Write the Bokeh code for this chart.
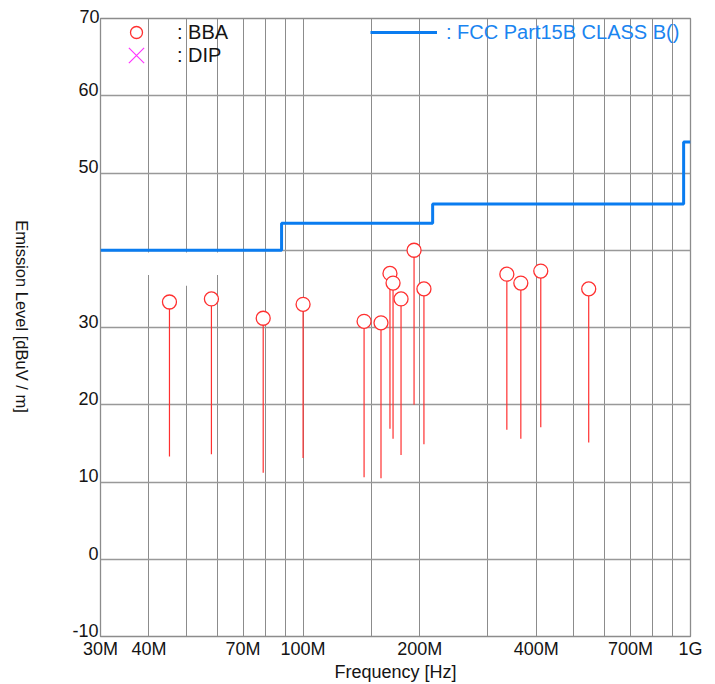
import math
from bokeh.plotting import figure
from bokeh.models import FixedTicker, Legend, LegendItem, Range1d, LinearAxis, Title
from bokeh.embed import file_html
from bokeh.resources import INLINE

# ---- data (frequencies in MHz, levels in dBuV/m) ----
freq_mhz = [45.2, 58.0, 78.9, 100.0, 143.7, 158.9, 167.6, 170.7, 179.0, 193.4, 205.1, 335.7, 364.8, 410.7, 546.1]
peak_dbuv = [33.3, 33.7, 31.2, 33.0, 30.8, 30.6, 37.0, 35.75, 33.7, 40.0, 35.0, 36.9, 35.75, 37.3, 35.0]
stem_low_dbuv = [13.3, 13.6, 11.2, 13.1, 10.6, 10.5, 16.9, 15.6, 13.5, 20.0, 14.9, 16.75, 15.6, 17.1, 15.1]

dip_freq_mhz = [float("nan")]   # no DIP readings in this chart
dip_dbuv = [float("nan")]

limit_edges_mhz = [30, 88, 216, 960, 1000]
limit_dbuv = [40.0, 43.5, 46.0, 54.0]

x_grid_mhz = [30, 40, 50, 60, 70, 80, 90, 100, 150, 200, 300, 400, 500, 600, 700, 800, 900, 1000]
x_tick_labels = {30: "30M", 40: "40M", 70: "70M", 100: "100M", 200: "200M",
                 400: "400M", 700: "700M", 1000: "1G"}
y_ticks = [-10, 0, 10, 20, 30, 40, 50, 60, 70]
y_tick_labels = ["-10", "0", "10", "20", "30", "", "50", "60", "70"]
y_title = "Emission Level [dBuV / m]"
x_title = "Frequency [Hz]"

FONT = "Liberation Sans"
GRID = "#8c8c8c"
RED = "#ff3030"
BLUE = "#0a7cf0"
TXT = "#141414"

Y0, Y1 = -10, 70
p = figure(width=715, height=684, x_axis_type="log",
           x_range=Range1d(30, 1000), y_range=Range1d(Y0, Y1),
           output_backend="svg", toolbar_location=None,
           min_border_left=99, min_border_right=25, min_border_top=18, min_border_bottom=47)
p.title.visible = False
p.outline_line_color = GRID
p.outline_line_width = 1.3


def no_ticks(ax):
    ax.major_tick_out = 0
    ax.major_tick_in = 0
    ax.minor_tick_out = 0
    ax.minor_tick_in = 0


# ---- x axis ----
p.xaxis.ticker = FixedTicker(ticks=x_grid_mhz)
p.xaxis.major_label_overrides = {t: x_tick_labels.get(t, "") for t in x_grid_mhz}
p.xaxis.major_label_text_font = FONT
p.xaxis.major_label_text_font_size = "18px"
p.xaxis.major_label_text_color = TXT
p.xaxis.major_label_standoff = 2
no_ticks(p.xaxis)
p.xaxis.axis_line_color = GRID
p.xaxis.axis_label = x_title
p.xaxis.axis_label_text_font = FONT
p.xaxis.axis_label_text_font_size = "18px"
p.xaxis.axis_label_text_font_style = "normal"
p.xaxis.axis_label_text_color = TXT
p.xaxis.axis_label_standoff = 0
p.xgrid.grid_line_color = GRID
p.xgrid.grid_line_width = 1

# ---- y grid (own ticker) and y axis whose labels sit just above each grid line ----
p.yaxis.visible = False
p.ygrid.ticker = FixedTicker(ticks=y_ticks)
p.ygrid.grid_line_color = "#999999"
p.ygrid.grid_line_width = 1.3

lift = 0.8  # label lift, in dB, so the numbers sit on top of their grid line
p.extra_y_ranges = {"lab": Range1d(Y0 - lift, Y1 - lift), "ttl": Range1d(0, 1)}
yax = LinearAxis(y_range_name="lab", ticker=FixedTicker(ticks=y_ticks),
                 bounds=(Y0 + 0.01, Y1 - lift - 0.01))
yax.major_label_overrides = {t: s for t, s in zip(y_ticks, y_tick_labels)}
yax.major_label_text_font = FONT
yax.major_label_text_font_size = "18px"
yax.major_label_text_color = TXT
yax.major_label_standoff = 2
no_ticks(yax)
yax.axis_line_color = None
p.add_layout(yax, "left")

# top label ("70") sits above the frame edge
top_lab = Title(text=y_tick_labels[-1], align="left", offset=-21,
                text_font=FONT, text_font_size="18px", text_font_style="normal",
                text_color=TXT)
try:
    top_lab.standoff = -8
except Exception:
    top_lab.standoff = 0
p.add_layout(top_lab, "above")

# axis title, read top to bottom; it ends at ~0.362 of the frame height
title_end = 0.362
tax = LinearAxis(y_range_name="ttl", ticker=FixedTicker(ticks=[title_end]))
tax.major_label_overrides = {title_end: y_title}
tax.major_label_orientation = -math.pi / 2
tax.major_label_text_font = FONT
tax.major_label_text_font_size = "16.5px"
tax.major_label_text_color = TXT
tax.major_label_standoff = 48
no_ticks(tax)
tax.axis_line_color = None
p.add_layout(tax, "left")

# white gaps in the grid (as in the reference)
p.quad(left=[38], right=[62], bottom=[36.8], top=[39.7], fill_color="white", line_color=None)
p.quad(left=[48], right=[52], bottom=[35.4], top=[38.2], fill_color="white", line_color=None)

# ---- limit line (step) ----
lx, ly = [], []
for i, lv in enumerate(limit_dbuv):
    lx += [limit_edges_mhz[i], limit_edges_mhz[i + 1]]
    ly += [lv, lv]
limit_r = p.line(lx, ly, line_color=BLUE, line_width=3)

# ---- stems and markers ----
p.segment(x0=freq_mhz, y0=stem_low_dbuv, x1=freq_mhz, y1=peak_dbuv, line_color=RED, line_width=1.2)
bba_r = p.scatter(freq_mhz, peak_dbuv, marker="circle", size=14, fill_color="white",
                  line_color=RED, line_width=1.3)
dip_r = p.scatter(dip_freq_mhz, dip_dbuv, marker="x", size=14, line_color="#ff33ff", line_width=1.2)

FH = 619  # frame height in px (684 - 18 - 47)


def make_legend(label, rend, vx, top, gw, gh, standoff, color):
    return Legend(items=[LegendItem(label=label, renderers=[rend])],
                  location=(vx, FH - gh - top), margin=0, padding=0,
                  glyph_width=gw, glyph_height=gh, label_height=20,
                  label_standoff=standoff, label_text_font=FONT, label_text_font_size="20px",
                  label_text_color=color, border_line_color=None, background_fill_alpha=0)


p.add_layout(make_legend(": BBA", bba_r, 0, 0, 72, 30, 5, TXT), "center")
p.add_layout(make_legend(": DIP", dip_r, 0, 11, 72, 54, 5, TXT), "center")
p.add_layout(make_legend(": FCC Part15B CLASS B()", limit_r, 270, 0, 67, 30, 9, "#1a84f0"), "center")

open("out.html", "w").write(file_html(p, INLINE))
